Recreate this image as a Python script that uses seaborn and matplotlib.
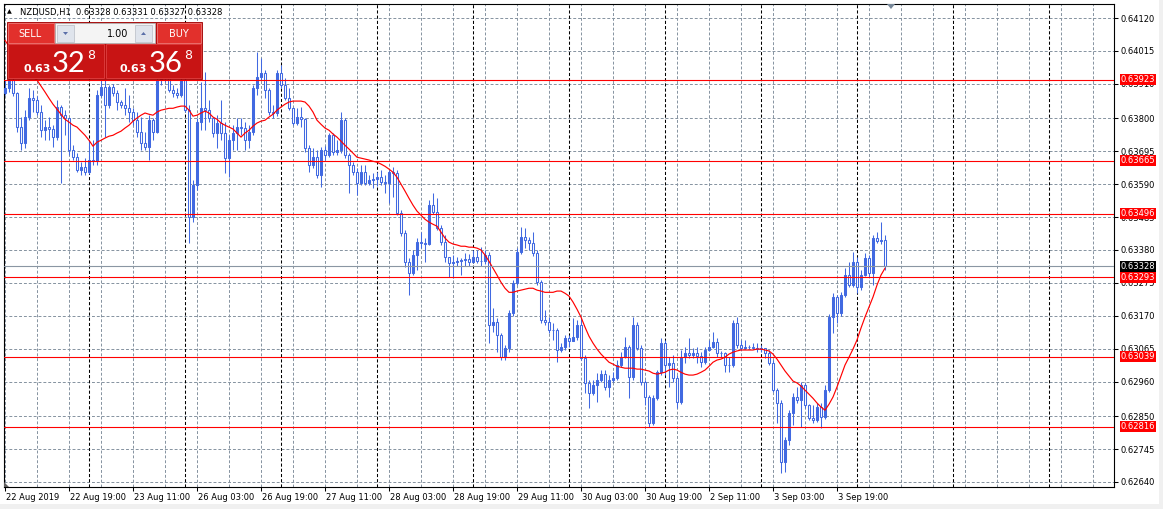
import numpy as np
import pandas as pd
import matplotlib
matplotlib.use("Agg")
import matplotlib.pyplot as plt
from matplotlib.patches import Rectangle, Polygon
from matplotlib.transforms import ScaledTranslation
import seaborn as sns

# NZDUSD H1, prices in points (1 point = 0.00001)
first_open_pts = 63880

close_pts = [
    63896, 63922, 63880, 63772, 63721, 63804, 63864, 63858, 63820, 63762,
    63772, 63766, 63740, 63836, 63810, 63801, 63698, 63676, 63635, 63644,
    63628, 63667, 63665, 63874, 63899, 63842, 63899, 63880, 63852, 63842,
    63832, 63820, 63794, 63756, 63721, 63708, 63794, 63756, 63922, 63947,
    63935, 63890, 63880, 63874, 63922, 63826, 63485, 63587, 63788, 63832,
    63826, 63801, 63753, 63785, 63753, 63673, 63730, 63753, 63772, 63770,
    63730, 63756, 63896, 63931, 63944, 63890, 63820, 63817, 63944, 63906,
    63864, 63832, 63785, 63804, 63797, 63705, 63651, 63676, 63619, 63698,
    63683, 63746, 63692, 63698, 63794, 63683, 63651, 63628, 63593, 63628,
    63593, 63603, 63606, 63612, 63596, 63593, 63628, 63625, 63498, 63434,
    63341, 63306, 63364, 63405, 63402, 63400, 63523, 63501, 63450, 63405,
    63357, 63338, 63341, 63344, 63348, 63351, 63341, 63357, 63344, 63345,
    63364, 63140, 63150, 63109, 63038, 63067, 63179, 63274, 63373, 63421,
    63411, 63402, 63370, 63277, 63156, 63150, 63125, 63124, 63061, 63070,
    63099, 63089, 63102, 63140, 63035, 62956, 62924, 62949, 62965, 62984,
    62943, 62965, 62971, 63013, 63038, 63070, 62974, 63140, 63067, 62959,
    62911, 62828, 62907, 62990, 63083, 63013, 63019, 62971, 62895, 63038,
    63051, 63045, 63051, 63041, 63022, 63061, 63070, 63086, 63051, 63050,
    63013, 63012, 63147, 63077, 63067, 63070, 63069, 63067, 63064, 63066,
    63051, 63019, 62933, 62892, 62703, 62774, 62860, 62911, 62901, 62949,
    62885, 62844, 62837, 62879, 62847, 62933, 63166, 63230, 63179, 63236,
    63300, 63268, 63341, 63261, 63300, 63354, 63306, 63418, 63408, 63411,
    63328,
]

high_pts = [
    63922, 63935, 63928, 63884, 63804, 63826, 63896, 63890, 63871, 63842,
    63794, 63804, 63778, 63858, 63842, 63826, 63788, 63714, 63689, 63660,
    63673, 63730, 63730, 63890, 63922, 63922, 63906, 63909, 63890, 63858,
    63896, 63874, 63832, 63820, 63804, 63756, 63810, 63801, 63938, 63979,
    63960, 63941, 63906, 63896, 63947, 63938, 63842, 63603, 63801, 63915,
    63947, 63858, 63801, 63810, 63858, 63788, 63746, 63778, 63801, 63801,
    63788, 63778, 63906, 64011, 63992, 63954, 63896, 63842, 63954, 63970,
    63928, 63896, 63832, 63832, 63836, 63801, 63714, 63705, 63698, 63708,
    63711, 63753, 63753, 63730, 63820, 63801, 63689, 63660, 63641, 63651,
    63651, 63619, 63625, 63628, 63635, 63619, 63635, 63644, 63635, 63507,
    63444, 63354, 63380, 63418, 63437, 63418, 63539, 63561, 63545, 63459,
    63427, 63357, 63364, 63357, 63354, 63370, 63367, 63380, 63380, 63389,
    63380, 63373, 63195, 63163, 63115, 63077, 63188, 63284, 63386, 63453,
    63450, 63421, 63437, 63380, 63284, 63188, 63166, 63147, 63131, 63083,
    63109, 63109, 63163, 63156, 63163, 63045, 62965, 62965, 62987, 62997,
    62997, 62981, 62990, 63029, 63054, 63102, 63077, 63166, 63150, 63077,
    62965, 62917, 62917, 62997, 63099, 63093, 63038, 63045, 62981, 63061,
    63070, 63099, 63067, 63070, 63054, 63070, 63093, 63118, 63099, 63058,
    63054, 63038, 63156, 63166, 63093, 63093, 63077, 63083, 63083, 63077,
    63067, 63061, 63029, 62940, 62901, 62783, 62869, 62924, 62943, 62959,
    62956, 62888, 62885, 62892, 62892, 62949, 63175, 63242, 63236, 63245,
    63322, 63341, 63373, 63357, 63316, 63370, 63364, 63427, 63437, 63469,
    63427,
]

low_pts = [
    63874, 63884, 63871, 63756, 63698, 63705, 63794, 63820, 63810, 63740,
    63730, 63730, 63708, 63730, 63593, 63746, 63683, 63667, 63628, 63619,
    63619, 63622, 63651, 63651, 63868, 63740, 63832, 63871, 63826, 63832,
    63810, 63788, 63778, 63740, 63698, 63698, 63667, 63730, 63753, 63906,
    63915, 63884, 63868, 63864, 63868, 63820, 63402, 63469, 63571, 63762,
    63762, 63788, 63740, 63705, 63730, 63625, 63612, 63698, 63698, 63746,
    63698, 63705, 63746, 63874, 63922, 63864, 63810, 63801, 63807, 63896,
    63858, 63826, 63778, 63778, 63772, 63692, 63628, 63641, 63609, 63580,
    63667, 63676, 63683, 63683, 63689, 63673, 63561, 63619, 63555, 63587,
    63587, 63587, 63577, 63584, 63587, 63561, 63529, 63549, 63491, 63424,
    63325, 63236, 63300, 63316, 63386, 63341, 63396, 63494, 63444, 63396,
    63341, 63293, 63290, 63329, 63300, 63329, 63329, 63338, 63338, 63329,
    63335, 63083, 63118, 63054, 63029, 63029, 63054, 63169, 63268, 63367,
    63386, 63380, 63360, 63268, 63147, 63140, 63115, 63093, 63022, 63054,
    63061, 63070, 63093, 63093, 63029, 62924, 62876, 62917, 62895, 62959,
    62933, 62911, 62959, 62965, 63006, 63035, 62907, 62965, 63061, 62949,
    62885, 62815, 62821, 62901, 62981, 62981, 62943, 62959, 62876, 62888,
    63019, 63035, 63035, 63019, 63006, 63016, 63058, 63067, 63038, 63038,
    62990, 62990, 63006, 63067, 63061, 63064, 63064, 63064, 63054, 63054,
    63035, 63013, 62927, 62828, 62668, 62671, 62758, 62821, 62892, 62815,
    62876, 62837, 62828, 62831, 62812, 62841, 62927, 63115, 63147, 63169,
    63230, 63261, 63261, 63242, 63252, 63297, 63293, 63268, 63402, 63399,
    63316,
]

ma_pts = [
    64049, 64030, 64011, 63992, 63973, 63957, 63944, 63931, 63922, 63903,
    63884, 63864, 63845, 63829, 63813, 63797, 63788, 63778, 63772, 63759,
    63746, 63730, 63711, 63724, 63730, 63737, 63743, 63746, 63753, 63759,
    63769, 63778, 63791, 63801, 63810, 63817, 63813, 63810, 63820, 63826,
    63829, 63832, 63832, 63836, 63839, 63839, 63826, 63807, 63810, 63817,
    63823, 63817, 63804, 63797, 63785, 63778, 63772, 63766, 63753, 63740,
    63753, 63762, 63775, 63785, 63791, 63794, 63804, 63813, 63826, 63836,
    63845, 63852, 63855, 63855, 63855, 63852, 63839, 63820, 63794, 63781,
    63769, 63762, 63750, 63740, 63727, 63714, 63702, 63689, 63676, 63673,
    63670, 63667, 63663, 63660, 63654, 63647, 63638, 63628, 63612, 63590,
    63568, 63545, 63523, 63504, 63491, 63478, 63469, 63462, 63456, 63437,
    63418, 63405, 63399, 63396, 63392, 63392, 63389, 63389, 63386, 63380,
    63364, 63344, 63322, 63300, 63277, 63258, 63245, 63245, 63249, 63252,
    63255, 63258, 63258, 63252, 63249, 63245, 63245, 63245, 63249, 63249,
    63242, 63233, 63214, 63191, 63166, 63134, 63105, 63083, 63064, 63048,
    63035, 63022, 63016, 63009, 63006, 63003, 63003, 63003, 63000, 63000,
    62997, 62994, 62987, 62984, 62987, 62990, 62997, 63000, 62997, 62990,
    62984, 62981, 62981, 62984, 62990, 62997, 63009, 63022, 63029, 63032,
    63038, 63048, 63054, 63058, 63061, 63061, 63061, 63061, 63064, 63064,
    63061, 63058, 63048, 63032, 63013, 62994, 62978, 62962, 62956, 62946,
    62933, 62920, 62907, 62892, 62879, 62869, 62888, 62911, 62943, 62978,
    63013, 63038, 63064, 63093, 63131, 63166, 63198, 63230, 63268, 63300,
    63322,
]

time_labels = ["22 Aug 2019", "22 Aug 19:00", "23 Aug 11:00", "26 Aug 03:00",
               "26 Aug 19:00", "27 Aug 11:00", "28 Aug 03:00", "28 Aug 19:00",
               "29 Aug 11:00", "30 Aug 03:00", "30 Aug 19:00", "2 Sep 11:00",
               "3 Sep 03:00", "3 Sep 19:00"]
price_ticks = [0.64120, 0.64015, 0.63910, 0.63800, 0.63695, 0.63590, 0.63485,
               0.63380, 0.63275, 0.63170, 0.63065, 0.62960, 0.62850, 0.62745,
               0.62640]
levels = [0.63923, 0.63665, 0.63496, 0.63293, 0.63039, 0.62816]
last_price = 0.63328

# ---- data frame ----
df = pd.DataFrame({
    "close": np.array(close_pts) / 1e5,
    "high": np.array(high_pts) / 1e5,
    "low": np.array(low_pts) / 1e5,
    "ma": np.array(ma_pts) / 1e5,
})
df["open"] = np.r_[first_open_pts / 1e5, df["close"].values[:-1]]
df["bar"] = np.arange(len(df))
df["high"] = df[["high", "open", "close"]].max(axis=1)
df["low"] = df[["low", "open", "close"]].min(axis=1)

sns.set_style("white")
plt.rcParams["font.family"] = ["DejaVu Sans"]

W, H = 1163, 509
fig = plt.figure(figsize=(W / 100, H / 100), dpi=100)
fig.patch.set_facecolor("white")
ax = fig.add_axes([4 / W, 1 - 487 / H, 1110 / W, 483 / H])
ax.set_facecolor("white")

blue = "#4169e1"
grid_col = "#8592a0"
dash = (0, (3, 2))

# candles
ax.vlines(df["bar"], df["low"], df["high"], color=blue, lw=0.75, zorder=3)
body_lo = df[["open", "close"]].min(axis=1)
body_h = (df["close"] - df["open"]).abs()
faces = np.where(df["close"] > df["open"], blue, "white")
ax.bar(df["bar"], body_h, bottom=body_lo, width=0.55, color=faces,
       edgecolor=blue, linewidth=0.75, zorder=4)

# moving average
sns.lineplot(data=df, x="bar", y="ma", color="red", lw=0.85, ax=ax, zorder=5)

# level lines
for lv in levels:
    ax.axhline(lv, color="red", lw=0.8, zorder=6)
ax.axhline(last_price, color="#8a96a3", lw=0.8, zorder=6)

# period separators
for b in range(21, 278, 24):
    ax.axvline(b, color="black", lw=0.75, ls=dash, zorder=1)

ax.set_xlim(-0.25, 277.25)
ax.set_ylim(0.626240, 0.641647)
ax.set_xlabel("")
ax.set_ylabel("")

ax.set_xticks(range(0, 16 * len(time_labels), 16))
ax.set_xticklabels(time_labels)
ax.set_xticks(range(0, 278, 8), minor=True)
ax.set_yticks(price_ticks)
ax.set_yticklabels([f"{p:.5f}" for p in price_ticks])
ax.yaxis.tick_right()
ax.grid(True, which="both", axis="x", color=grid_col, lw=0.7, ls=dash)
ax.grid(True, which="major", axis="y", color=grid_col, lw=0.7, ls=dash)
ax.tick_params(axis="x", which="major", length=3, width=0.75, pad=1.0,
               labelsize=6, colors="black", bottom=True)
ax.tick_params(axis="x", which="minor", length=0)
ax.tick_params(axis="y", which="major", length=3, width=0.75, pad=1.5,
               labelsize=6, colors="black", right=True)
shift = ScaledTranslation(1 / 100, 0, fig.dpi_scale_trans)
for lab in ax.get_xticklabels():
    lab.set_horizontalalignment("left")
    lab.set_transform(lab.get_transform() + shift)
for s in ax.spines.values():
    s.set_visible(True)
    s.set_color("black")
    s.set_linewidth(0.8)

# price boxes on the right scale
trans = ax.get_yaxis_transform()
box_x, box_w, box_h = 1.0054, 0.0324, 11 * 3.19e-5
for lv, fc in [(lv, "red") for lv in levels] + [(last_price, "black")]:
    ax.add_patch(Rectangle((box_x, lv - box_h / 2), box_w, box_h, transform=trans,
                           facecolor=fc, edgecolor="none", clip_on=False, zorder=7))
    ax.text(box_x + box_w / 2, lv, f"{lv:.5f}", transform=trans, color="white",
            fontsize=6, ha="center", va="center", clip_on=False, zorder=8)

# overlay in pixel coordinates: window frame, header and trade panel
ov = fig.add_axes([0, 0, 1, 1])
ov.set_xlim(0, W)
ov.set_ylim(H, 0)
ov.axis("off")
ov.patch.set_alpha(0)

ov.add_patch(Rectangle((0, 504), W, 5, fc="#f0f0f0", ec="none"))
ov.add_patch(Rectangle((1159, 0), 4, H, fc="#f0f0f0", ec="none"))
ov.add_patch(Polygon([(887, 4), (895, 4), (891, 9)], closed=True, fc="#778899", ec="none"))
ov.add_patch(Polygon([(4, 482), (4, 487), (9, 487)], closed=True, fc="#606060", ec="none"))

ov.text(9, 12, "\u25b2", fontsize=4.5, ha="center", va="center", color="black")
ov.text(20, 12, "NZDUSD,H1  0.63328 0.63331 0.63327 0.63328", fontsize=6,
        ha="left", va="center", color="black")

ov.add_patch(Rectangle((7, 22), 195, 57, fc="#b80d0d", ec="#a00000", lw=0.6))
ov.add_patch(Rectangle((8, 23), 46, 20, fc="#e2302c", ec="#f07a78", lw=0.6))
ov.add_patch(Rectangle((157, 23), 44, 20, fc="#e2302c", ec="#f07a78", lw=0.6))
ov.add_patch(Rectangle((55, 23), 100, 20, fc="#f4f4f4", ec="#b4b4b4", lw=0.6))
ov.add_patch(Rectangle((57, 25), 17, 17, fc="#dfe4ec", ec="#c0c4cc", lw=0.6))
ov.add_patch(Rectangle((135, 25), 17, 17, fc="#dfe4ec", ec="#c0c4cc", lw=0.6))
ov.add_patch(Polygon([(63, 32), (68, 32), (65.5, 35)], closed=True, fc="#5a6fa8", ec="none"))
ov.add_patch(Polygon([(141, 35), (146, 35), (143.5, 32)], closed=True, fc="#5a6fa8", ec="none"))
ov.add_patch(Rectangle((8, 44), 96, 34, fc="#c81414", ec="#e04040", lw=0.6))
ov.add_patch(Rectangle((106, 44), 95, 34, fc="#c81414", ec="#e04040", lw=0.6))

ov.text(30, 33.5, "SELL", color="white", fontsize=7, ha="center", va="center")
ov.text(179, 33.5, "BUY", color="white", fontsize=7, ha="center", va="center")
ov.text(128, 33.5, "1.00", color="black", fontsize=7, ha="right", va="center")
for x0, big in [(23, "32"), (120, "36")]:
    ov.text(x0, 72, "0.63", color="white", fontsize=8, fontweight="bold",
            ha="left", va="baseline")
    ov.text(x0 + 29, 72, big, color="white", fontsize=21,
            family=["Lato", "DejaVu Sans"], ha="left", va="baseline")
    ov.text(x0 + 64, 59, "8", color="white", fontsize=9, ha="left", va="baseline")

fig.savefig("out.png", dpi=100)
